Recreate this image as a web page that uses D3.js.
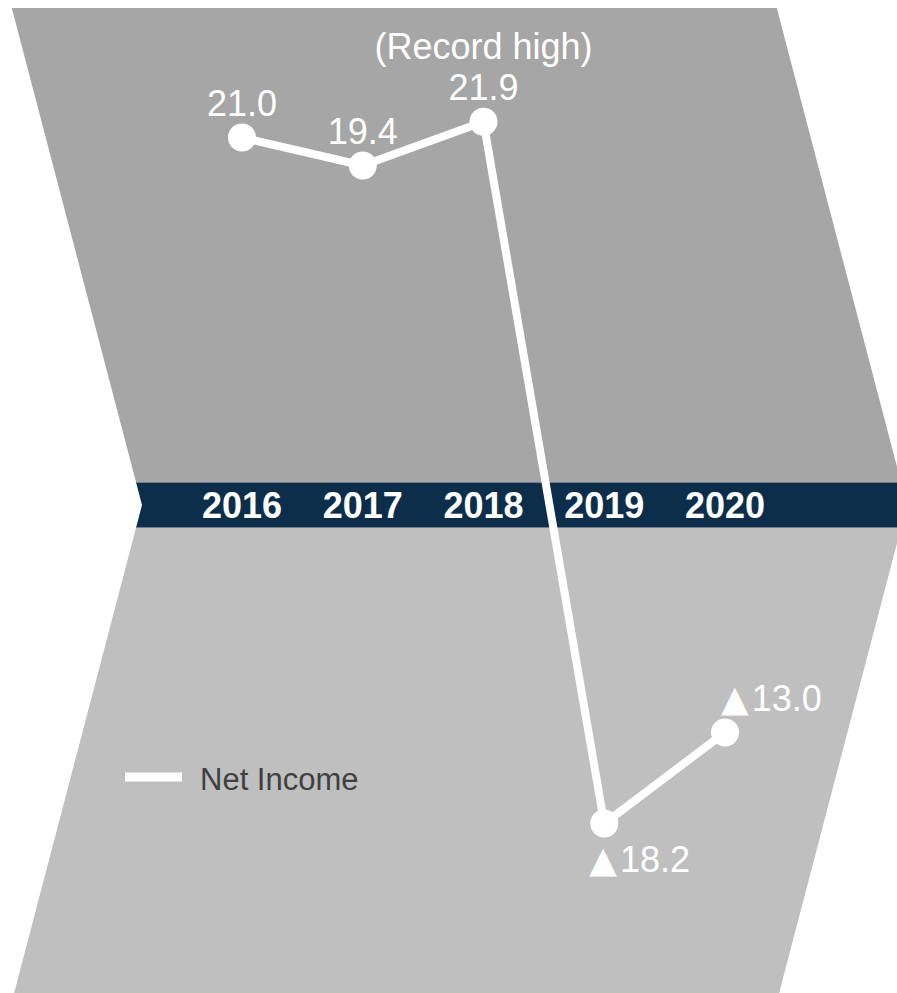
<!DOCTYPE html>
<html>
<head>
<meta charset="utf-8">
<script src="https://cdn.jsdelivr.net/npm/d3@7/dist/d3.min.js"></script>
<style>
  html, body { margin: 0; padding: 0; background: #ffffff; }
  svg { display: block; }
  text { font-family: "Liberation Sans", Arial, "Helvetica Neue", sans-serif; }
</style>
</head>
<body>
<svg id="chart" width="897" height="993"></svg>
<script>
// Net income by fiscal year (billions); negative values are losses, shown with ▲
const years = ["2016", "2017", "2018", "2019", "2020"];
const netIncome = [21.0, 19.4, 21.9, -18.2, -13.0];
const recordNote = "(Record high)";
const seriesName = "Net Income";

const W = 897, H = 993;
const svg = d3.select("#chart");

// Scales: evenly spaced years, profit above the timeline band, loss below
const x = d3.scalePoint().domain(years).range([242, 725]);
const y = d3.scaleLinear().domain([-25, 25]).range([942.5, 67.5]);

const zeroY = y(0);
const bandHalf = 22.5;
const topY = 8;

// Chevron outline that holds the whole graphic
const slope = 0.262;
const leftTip = 142, rightTip = 907;
const chevron = [
  [leftTip - slope * (zeroY - topY), topY],
  [rightTip - slope * (zeroY - topY), topY],
  [rightTip, zeroY],
  [rightTip - slope * (H + 10 - zeroY), H + 10],
  [leftTip - slope * (H + 10 - zeroY), H + 10],
  [leftTip, zeroY]
];

const defs = svg.append("defs");
defs.append("clipPath").attr("id", "chev")
  .append("path").attr("d", "M" + chevron.map(p => p.join(",")).join("L") + "Z");

const bg = svg.append("g").attr("clip-path", "url(#chev)");
bg.append("rect").attr("x", 0).attr("y", topY).attr("width", W + 20)
  .attr("height", zeroY - bandHalf - topY).attr("fill", "#a6a6a6");
bg.append("rect").attr("x", 0).attr("y", zeroY + bandHalf).attr("width", W + 20)
  .attr("height", H - zeroY).attr("fill", "#bfbfbf");
bg.append("rect").attr("x", 0).attr("y", zeroY - bandHalf).attr("width", W + 20)
  .attr("height", bandHalf * 2).attr("fill", "#0d2e4b");
bg.append("line").attr("x1", 0).attr("x2", W + 20)
  .attr("y1", zeroY - bandHalf).attr("y2", zeroY - bandHalf)
  .attr("stroke", "#6f7f8e").attr("stroke-width", 1);
bg.append("line").attr("x1", 0).attr("x2", W + 20)
  .attr("y1", zeroY + bandHalf).attr("y2", zeroY + bandHalf)
  .attr("stroke", "#6f7f8e").attr("stroke-width", 1);

// Year labels on the timeline band
svg.append("g").selectAll("text").data(years).join("text")
  .attr("x", d => x(d))
  .attr("y", zeroY + 13)
  .attr("text-anchor", "middle")
  .attr("font-size", 36)
  .attr("font-weight", "bold")
  .attr("fill", "#ffffff")
  .text(d => d);

const pts = years.map((yr, i) => ({ year: yr, value: netIncome[i], i }));

// Net income line with markers
svg.append("path").datum(pts)
  .attr("fill", "none")
  .attr("stroke", "#ffffff")
  .attr("stroke-width", 8)
  .attr("stroke-linejoin", "round")
  .attr("d", d3.line().x(d => x(d.year)).y(d => y(d.value)));

svg.append("g").selectAll("circle").data(pts).join("circle")
  .attr("cx", d => x(d.year))
  .attr("cy", d => y(d.value))
  .attr("r", 14)
  .attr("fill", "#ffffff");

// Value labels: profits above the point, losses prefixed with a ▲ mark
const minVal = d3.min(netIncome);
const labels = svg.append("g").attr("fill", "#ffffff").attr("font-size", 36);
pts.forEach(d => {
  const px = x(d.year), py = y(d.value);
  const t = labels.append("text");
  const num = t.append("tspan");
  if (d.value < 0) {
    num.remove();
    t.append("tspan").attr("font-family", "'DejaVu Sans', sans-serif")
      .attr("font-size", 36).text("▲");
    t.append("tspan").attr("dx", 3).text(Math.abs(d.value).toFixed(1));
  } else {
    num.text(d.value.toFixed(1));
  }
  if (d.value >= 0) {
    t.attr("x", px).attr("y", py - 22).attr("text-anchor", "middle");
  } else if (d.value === minVal) {
    t.attr("x", px - 15).attr("y", py + 48).attr("text-anchor", "start");
  } else {
    t.attr("x", px - 4).attr("y", py - 22).attr("text-anchor", "start");
  }
});

// Note above the record year
const maxPt = pts.find(d => d.value === d3.max(netIncome));
labels.append("text")
  .attr("x", x(maxPt.year))
  .attr("y", y(maxPt.value) - 63)
  .attr("text-anchor", "middle")
  .text(recordNote);

// Legend
const legend = svg.append("g").attr("transform", "translate(125,777)");
legend.append("line").attr("x1", 0).attr("x2", 57).attr("y1", 0).attr("y2", 0)
  .attr("stroke", "#ffffff").attr("stroke-width", 9);
legend.append("text").attr("x", 75).attr("y", 13)
  .attr("font-size", 31).attr("fill", "#404040").text(seriesName);
</script>
</body>
</html>
